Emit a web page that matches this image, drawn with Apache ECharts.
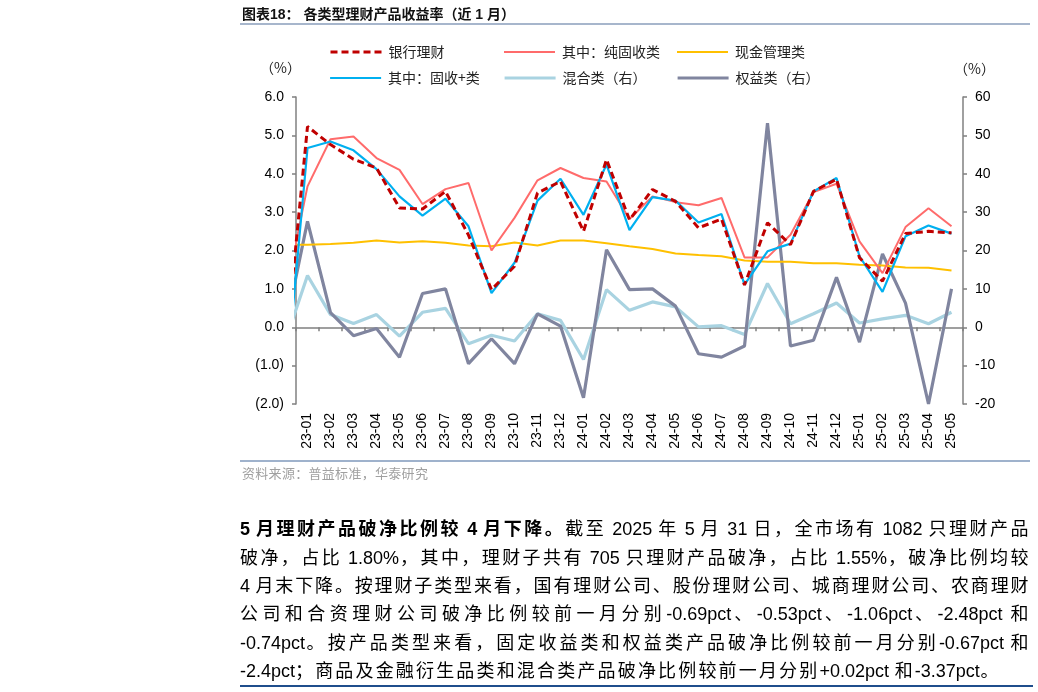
<!DOCTYPE html>
<html>
<head>
<meta charset="utf-8">
<script src="https://cdn.jsdelivr.net/npm/echarts@6/dist/echarts.min.js"></script>
<style>
html,body{margin:0;padding:0;background:#fff;width:1038px;height:692px;overflow:hidden;}
#chart{position:absolute;left:0;top:0;width:1038px;height:692px;}
.abs{position:absolute;white-space:nowrap;}
#title{left:242px;top:5px;font:bold 14px "Liberation Sans","Noto Sans CJK SC";color:#111;line-height:18px;}
#titleRule{left:240px;top:23px;width:790px;height:2px;background:#A7B6CC;}
.unit{font:14px "Noto Sans CJK SC";color:#222;line-height:16px;}
#srcRule{left:240px;top:460px;width:790px;height:1.5px;background:#9FB2CC;}
#src{left:242px;top:465px;font:13px "Noto Sans CJK SC";color:#a0a0a0;line-height:16px;letter-spacing:0.3px;}
#bottomRule{left:240px;top:685px;width:793px;height:1.5px;background:#1F4E8C;}
.pline{position:absolute;left:240px;height:28px;line-height:28px;font-size:18px;color:#000;
  font-family:"Liberation Sans","Noto Sans CJK SC";text-align:justify;text-align-last:justify;white-space:normal;overflow:visible;}
.pline .c{letter-spacing:1.5px;font-family:"Noto Sans CJK SC";}
.pline b{font-weight:bold;}
</style>
</head>
<body>
<div id="chart"></div>
<div class="abs" id="title">图表18：&nbsp;各类型理财产品收益率（近 1 月）</div>
<div class="abs" id="titleRule"></div>
<div class="abs unit" style="left:260px;top:59px;">（%）</div>
<div class="abs unit" style="left:954px;top:60px;">（%）</div>
<div class="abs" id="srcRule"></div>
<div class="abs" id="src">资料来源：普益标准，华泰研究</div>
<div id="para"></div>
<div class="abs" id="bottomRule"></div>
<script>
// ---- data ----
// first entry (22-12) lies just outside the plotted range; only its clipped segment shows
const months = ['22-12','23-01','23-02','23-03','23-04','23-05','23-06','23-07','23-08','23-09','23-10','23-11','23-12',
  '24-01','24-02','24-03','24-04','24-05','24-06','24-07','24-08','24-09','24-10','24-11','24-12',
  '25-01','25-02','25-03','25-04','25-05'];
const seriesNames = ['银行理财','其中：纯固收类','现金管理类','其中：固收+类','混合类（右）','权益类（右）'];
const bankWM     = [-0.9,5.23,4.76,4.38,4.15,3.11,3.08,3.54,2.40,0.98,1.59,3.50,3.80,2.50,4.37,2.80,3.59,3.28,2.59,2.82,1.10,2.72,2.15,3.54,3.86,1.81,1.20,2.44,2.50,2.46];
const pureFixed  = [0.75,3.67,4.90,4.97,4.41,4.10,3.21,3.60,3.76,2.00,2.85,3.83,4.15,3.89,3.80,2.82,3.41,3.26,3.18,3.37,1.82,1.82,2.41,3.52,3.74,2.24,1.41,2.61,3.10,2.63];
const cashMgmt   = [2.15,2.15,2.17,2.20,2.26,2.21,2.24,2.20,2.13,2.11,2.21,2.13,2.26,2.26,2.19,2.11,2.04,1.92,1.88,1.85,1.74,1.71,1.71,1.67,1.67,1.63,1.61,1.56,1.55,1.48];
const fixedPlus  = [-1.9,4.67,4.84,4.61,4.12,3.41,2.91,3.35,2.63,0.89,1.68,3.30,3.87,2.93,4.24,2.53,3.39,3.30,2.73,2.95,1.11,1.98,2.18,3.54,3.89,1.85,0.92,2.37,2.65,2.44];
const mixed      = [-4.3,13.5,3.3,1.0,3.3,-2.3,3.9,4.9,-4.3,-2.1,-3.6,3.5,1.8,-8.4,9.8,4.4,6.6,5.3,0.1,0.4,-1.9,11.4,0.9,3.5,6.3,1.1,2.2,3.1,0.9,3.9];
const equity     = [-1.4,27.6,3.8,-2.2,-0.3,-7.8,8.8,10.0,-9.5,-3.0,-9.5,3.5,0.3,-18.4,20.2,9.8,10.0,5.5,-6.9,-7.8,-4.9,53.2,-4.9,-3.4,13.0,-3.9,19.1,6.3,-20.0,10.0];
const leftTicks  = {min:-2, max:6, interval:1};
const rightTicks = {min:-20, max:60, interval:10};

const paragraphLines = [
  [['5 月理财产品破净比例较 4 月下降。',true],['截至 2025 年 5 月 31 日，全市场有 1082 只理财产品',false]],
  [['破净，占比 1.80%，其中，理财子共有 705 只理财产品破净，占比 1.55%，破净比例均较',false]],
  [['4 月末下降。按理财子类型来看，国有理财公司、股份理财公司、城商理财公司、农商理财',false]],
  [['公司和合资理财公司破净比例较前一月分别-0.69pct、-0.53pct、-1.06pct、-2.48pct 和',false]],
  [['-0.74pct。按产品类型来看，固定收益类和权益类产品破净比例较前一月分别-0.67pct 和',false]],
  [['-2.4pct；商品及金融衍生品类和混合类产品破净比例较前一月分别+0.02pct 和-3.37pct。',false]]
];

// ---- paragraph ----
(function(){
  const para = document.getElementById('para');
  const tops = [513, 541.5, 570, 598, 626.5, 655];
  const widths = [790,790,790,790,790,760];
  const esc = s => s.replace(/&/g,'&amp;').replace(/</g,'&lt;');
  paragraphLines.forEach((segs, i) => {
    const d = document.createElement('div');
    d.className = 'pline';
    d.style.top = tops[i] + 'px';
    d.style.width = widths[i] + 'px';
    d.innerHTML = segs.map(([t, b]) => {
      const h = esc(t).replace(/[\u3000-\u303f\u4e00-\u9fff\uff00-\uffef]+/g, m => '<span class="c">' + m + '</span>');
      return b ? '<b>' + h + '</b>' : h;
    }).join('');
    para.appendChild(d);
  });
})();

// ---- chart ----
const labelMonths = months.slice(1);
const toPairs = arr => arr.map((v, i) => [i - 1, v]);
const colors = ['#C00000','#FF6B6B','#FFC000','#00B0F0','#A9D3E1','#80859F'];
const widthsL = [3, 2, 2, 2.2, 3.2, 3.2];
const dataSets = [bankWM, pureFixed, cashMgmt, fixedPlus, mixed, equity];
const yIdx = [0,0,0,0,1,1];
const zOrder = [8,4,3,5,1,2];
const legendPos = [[329,45],[503,45],[676,45],[329,71],[503,71],[676,71]];
const axisGray = '#808080';
const labelFont = {fontSize:14, color:'#000', fontFamily:'"Liberation Sans", Arial, sans-serif'};

const chart = echarts.init(document.getElementById('chart'), null, {renderer:'canvas'});
chart.setOption({
  animation:false,
  backgroundColor:'transparent',
  grid:{left:296, right:75, top:97, bottom:288, containLabel:false, outerBoundsMode:'none'},
  legend: seriesNames.map((n, i) => ({
    data:[n], left:legendPos[i][0], top:legendPos[i][1], padding:0,
    itemWidth:51, itemHeight:14, itemGap:0, selectedMode:false,
    itemStyle:{opacity:0}, lineStyle:{width:'inherit'},
    textStyle:{fontSize:14, color:'#222', fontFamily:'"Noto Sans CJK SC"', padding:[0,0,0,2]}
  })),
  xAxis:[
    {type:'category', data:labelMonths, position:'bottom', boundaryGap:true,
     axisLine:{show:false, onZero:false}, axisTick:{show:false}, splitLine:{show:false},
     axisLabel:Object.assign({rotate:90, interval:0, margin:9}, labelFont)},
    {type:'category', data:labelMonths, position:'bottom', boundaryGap:true,
     axisLine:{show:true, onZero:true, onZeroAxisIndex:0, lineStyle:{color:axisGray, width:1.5}},
     axisTick:{show:true, length:4, interval:0, lineStyle:{color:axisGray, width:1.5}},
     axisLabel:{show:false}, splitLine:{show:false}},
    {type:'value', min:-0.5, max:labelMonths.length - 0.5, show:false,
     axisLine:{onZero:false}, splitLine:{show:false}}
  ],
  yAxis:[
    {type:'value', position:'left', min:leftTicks.min, max:leftTicks.max, interval:leftTicks.interval,
     axisLine:{show:true, onZero:false, lineStyle:{color:axisGray, width:1.5}},
     axisTick:{show:true, length:4, lineStyle:{color:axisGray, width:1.5}},
     splitLine:{show:false},
     axisLabel:Object.assign({margin:12, formatter:v => v < 0 ? '(' + Math.abs(v).toFixed(1) + ')' : v.toFixed(1)}, labelFont)},
    {type:'value', position:'right', min:rightTicks.min, max:rightTicks.max, interval:rightTicks.interval,
     axisLine:{show:true, onZero:false, lineStyle:{color:axisGray, width:1.5}},
     axisTick:{show:true, length:4, lineStyle:{color:axisGray, width:1.5}},
     splitLine:{show:false},
     axisLabel:Object.assign({margin:12}, labelFont)}
  ],
  series: seriesNames.map((n, i) => ({
    name:n, type:'line', xAxisIndex:2, yAxisIndex:yIdx[i], data:toPairs(dataSets[i]),
    symbol:'none', clip:true, z:zOrder[i], color:colors[i],
    lineStyle:{color:colors[i], width:widthsL[i], type: i === 0 ? [7,4] : 'solid'}
  }))
});
</script>
</body>
</html>
